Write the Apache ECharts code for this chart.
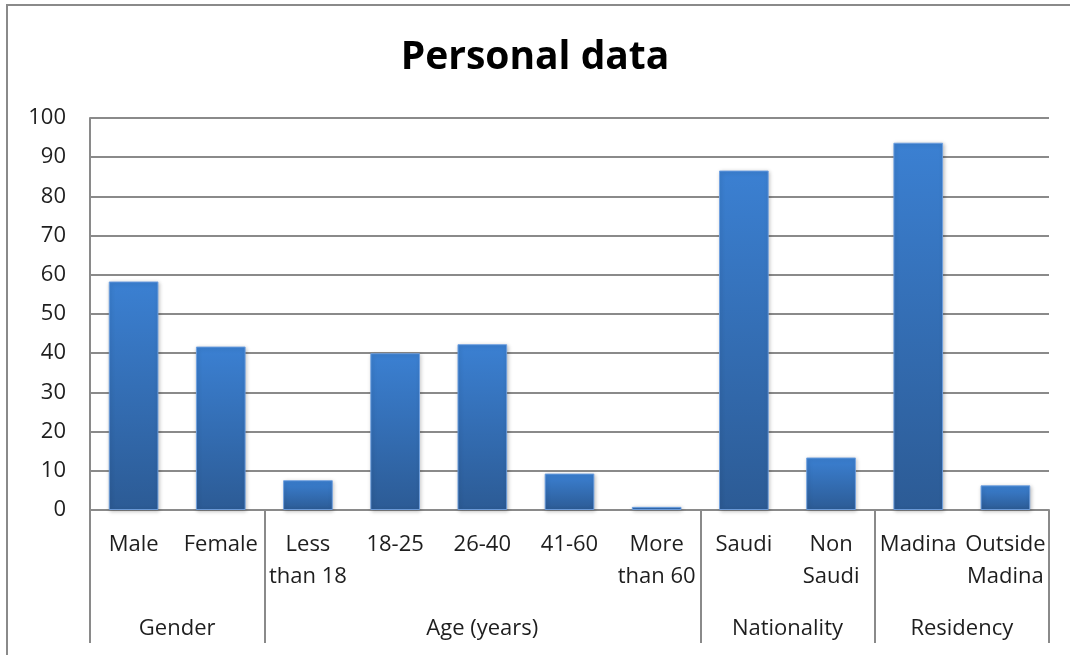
<!DOCTYPE html>
<html>
<head>
<meta charset="utf-8">
<title>Personal data</title>
<script src="https://cdn.jsdelivr.net/npm/echarts@6/dist/echarts.min.js"></script>
<style>
  html, body { margin: 0; padding: 0; background: #fff; }
  #frame {
    position: absolute; left: 6px; top: 4px; width: 1100px; height: 700px;
    border: 2px solid #8a8a8a; box-sizing: border-box;
  }
  #chart { position: absolute; left: 0; top: 0; width: 1070px; height: 655px; }
</style>
</head>
<body>
<div id="frame"></div>
<div id="chart"></div>
<script>
// Survey respondents' personal data (percent)
const categories = [
  'Male', 'Female',
  'Less\nthan 18', '18-25', '26-40', '41-60', 'More\nthan 60',
  'Saudi', 'Non\nSaudi',
  'Madina', 'Outside\nMadina'
];
const percentages = [58.3, 41.7, 7.6, 40.0, 42.3, 9.3, 0.8, 86.6, 13.4, 93.7, 6.3];

// Groups of categories: name and number of categories in each
const groupNames = ['Gender', 'Age (years)', 'Nationality', 'Residency'];
const groupSizes = [2, 5, 2, 2];

const yTicks = { min: 0, max: 100, step: 10 };

// Group boundaries and centres on a 0..N scale that spans the category axis
const groupEdges = [0];
groupSizes.forEach(s => groupEdges.push(groupEdges[groupEdges.length - 1] + s));
const groupCentres = groupSizes.map((s, i) => groupEdges[i] + s / 2);

const FONT = '"Open Sans", Lato, sans-serif';
const AXIS_GREY = '#8a8a8a';
const TEXT = '#1e1e1e';

const chart = echarts.init(document.getElementById('chart'), null, { renderer: 'canvas' });

chart.setOption({
  backgroundColor: 'transparent',
  animation: false,
  title: {
    text: 'Personal data',
    left: 'center',
    top: 33,
    textStyle: { fontFamily: FONT, fontWeight: 'bold', fontSize: 39, color: '#000' }
  },
  grid: { left: 90, right: 21, top: 118, bottom: 145, containLabel: false },
  xAxis: [
    {
      type: 'category',
      data: categories,
      boundaryGap: true,
      axisLine: { show: true, lineStyle: { color: AXIS_GREY, width: 2 } },
      axisTick: { show: false },
      axisLabel: {
        interval: 0,
        margin: 19,
        fontFamily: FONT,
        fontSize: 22,
        lineHeight: 32,
        color: TEXT
      }
    },
    {
      // Group level of the category axis: separators and group names
      type: 'value',
      position: 'bottom',
      min: 0,
      max: groupEdges[groupEdges.length - 1],
      axisLine: { show: false },
      splitLine: { show: false },
      axisTick: {
        show: true,
        customValues: groupEdges,
        length: 133,
        lineStyle: { color: AXIS_GREY, width: 2 }
      },
      axisLabel: {
        show: true,
        customValues: groupCentres,
        margin: 108,
        fontFamily: FONT,
        fontSize: 22,
        color: TEXT,
        formatter: v => {
          const i = groupCentres.indexOf(v);
          return i >= 0 ? groupNames[i] : '';
        }
      }
    }
  ],
  yAxis: {
    type: 'value',
    min: yTicks.min,
    max: yTicks.max,
    interval: yTicks.step,
    axisLine: { show: true, lineStyle: { color: AXIS_GREY, width: 2 } },
    axisTick: { show: false },
    splitLine: { show: true, lineStyle: { color: AXIS_GREY, width: 2 } },
    axisLabel: { margin: 24, fontFamily: FONT, fontSize: 22, color: TEXT }
  },
  series: [{
    type: 'bar',
    xAxisIndex: 0,
    yAxisIndex: 0,
    data: percentages,
    barWidth: '57%',
    itemStyle: {
      color: new echarts.graphic.LinearGradient(0, 0, 0, 1, [
        { offset: 0, color: '#3b80d2' },
        { offset: 1, color: '#2c5b95' }
      ]),
      borderColor: 'rgba(110,160,225,0.9)',
      borderWidth: 1,
      shadowColor: 'rgba(0,0,0,0.25)',
      shadowBlur: 4,
      shadowOffsetX: 1,
      shadowOffsetY: 1
    }
  }]
});
</script>
</body>
</html>
